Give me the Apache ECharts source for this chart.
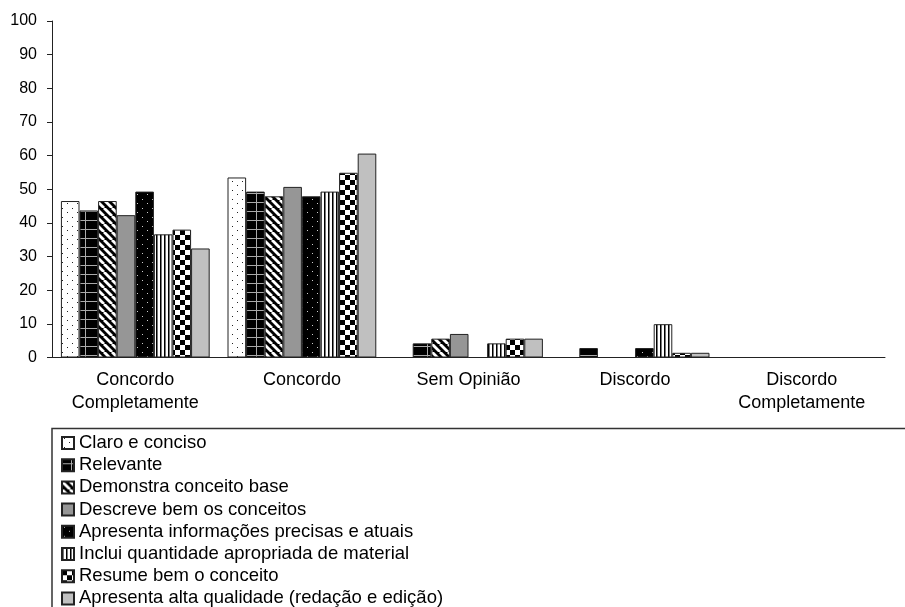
<!DOCTYPE html>
<html>
<head>
<meta charset="utf-8">
<script src="https://cdn.jsdelivr.net/npm/echarts@6/dist/echarts.min.js"></script>
<style>
html,body{margin:0;padding:0;background:#fff;}
#chart{width:905px;height:607px;}
</style>
</head>
<body>
<div id="chart"></div>
<script>
var categories = ['Concordo\nCompletamente', 'Concordo', 'Sem Opinião', 'Discordo', 'Discordo\nCompletamente'];
var yTicks = [0, 10, 20, 30, 40, 50, 60, 70, 80, 90, 100];
var seriesNames = [
  'Claro e conciso',
  'Relevante',
  'Demonstra conceito base',
  'Descreve bem os conceitos',
  'Apresenta informações precisas e atuais',
  'Inclui quantidade apropriada de material',
  'Resume bem o conceito',
  'Apresenta alta qualidade (redação e edição)'
];
var claro      = [46.5, 53.5, 0, 0, 0];
var relevante  = [43.7, 49.3, 4.2, 2.8, 0];
var demonstra  = [46.5, 47.9, 5.6, 0, 0];
var descreve   = [42.3, 50.7, 7.0, 0, 0];
var apresenta  = [49.3, 47.9, 0, 2.8, 0];
var inclui     = [36.6, 49.3, 4.2, 9.9, 0];
var resume     = [38.0, 54.9, 5.6, 1.4, 0];
var alta       = [32.4, 60.6, 5.6, 1.4, 0];
var seriesValues = [claro, relevante, demonstra, descreve, apresenta, inclui, resume, alta];

function tile(w, h, draw) {
  var c = document.createElement('canvas');
  c.width = w; c.height = h;
  var ctx = c.getContext('2d');
  draw(ctx, w, h);
  return { image: c, repeat: 'repeat' };
}
var fills = [
  tile(10, 9, function (ctx) {
    ctx.fillStyle = '#fff'; ctx.fillRect(0, 0, 10, 9);
    ctx.fillStyle = '#222'; ctx.fillRect(2, 1, 1, 1); ctx.fillRect(7, 5, 1, 1);
  }),
  tile(19, 9, function (ctx) {
    ctx.fillStyle = '#000'; ctx.fillRect(0, 0, 19, 9);
    ctx.fillStyle = '#aaa'; ctx.fillRect(0, 4, 19, 1); ctx.fillRect(9, 0, 1, 9);
  }),
  tile(8, 8, function (ctx) {
    ctx.fillStyle = '#000'; ctx.fillRect(0, 0, 8, 8);
    ctx.strokeStyle = '#fff'; ctx.lineWidth = 2.8;
    for (var x = -8; x <= 8; x += 8) { ctx.beginPath(); ctx.moveTo(x, 0); ctx.lineTo(x + 8, 8); ctx.stroke(); }
  }),
  '#969696',
  tile(10, 9, function (ctx) {
    ctx.fillStyle = '#000'; ctx.fillRect(0, 0, 10, 9);
    ctx.fillStyle = '#ccc'; ctx.fillRect(2, 1, 1, 1); ctx.fillRect(7, 5, 1, 1);
  }),
  tile(4, 4, function (ctx) {
    ctx.fillStyle = '#fff'; ctx.fillRect(0, 0, 4, 4);
    ctx.fillStyle = '#000'; ctx.fillRect(0, 0, 1, 4);
    ctx.fillStyle = '#777'; ctx.fillRect(1, 0, 1, 4);
  }),
  tile(10, 10, function (ctx) {
    ctx.fillStyle = '#fff'; ctx.fillRect(0, 0, 10, 10);
    ctx.fillStyle = '#000'; ctx.fillRect(0, 0, 5, 5); ctx.fillRect(5, 5, 5, 5);
  }),
  '#c0c0c0'
];

var font = 'Arial, "Liberation Sans", sans-serif';
var series = seriesNames.map(function (name, i) {
  return {
    name: name,
    type: 'bar',
    data: seriesValues[i],
    barGap: '0%',
    barCategoryGap: '10.7%',
    itemStyle: { color: fills[i], borderColor: '#222', borderWidth: 1 },
    emphasis: { disabled: true },
    animation: false
  };
});

var chart = echarts.init(document.getElementById('chart'), null, { renderer: 'canvas' });
chart.setOption({
  backgroundColor: '#fff',
  animation: false,
  grid: { left: 52, right: 20, top: 21, bottom: 249.5, containLabel: false },
  xAxis: {
    type: 'category',
    data: categories,
    axisLine: { lineStyle: { color: '#222', width: 1 } },
    axisTick: { length: 5, lineStyle: { color: '#222' } },
    axisLabel: { color: '#000', fontSize: 18, fontFamily: font, lineHeight: 23, margin: 11, interval: 0 }
  },
  yAxis: {
    type: 'value',
    min: yTicks[0],
    max: yTicks[yTicks.length - 1],
    interval: 10,
    splitLine: { show: false },
    axisLine: { show: true, lineStyle: { color: '#222', width: 1 } },
    axisTick: { show: true, length: 5, lineStyle: { color: '#222' } },
    axisLabel: { color: '#000', fontSize: 16, fontFamily: font, margin: 15 }
  },
  legend: {
    orient: 'vertical',
    left: 56,
    top: 428.5,
    height: 400,
    padding: 5,
    itemWidth: 12,
    itemHeight: 12,
    itemGap: 3.2,
    icon: 'rect',
    selectedMode: false,
    textStyle: { color: '#000', fontSize: 18.5, fontFamily: font, lineHeight: 18 },
    data: seriesNames
  },
  graphic: [{
    type: 'rect',
    shape: { x: 52, y: 428.5, width: 900, height: 300 },
    style: { fill: 'none', stroke: '#333', lineWidth: 1.5 },
    silent: true,
    z: -1
  }],
  series: series
});
</script>
</body>
</html>
